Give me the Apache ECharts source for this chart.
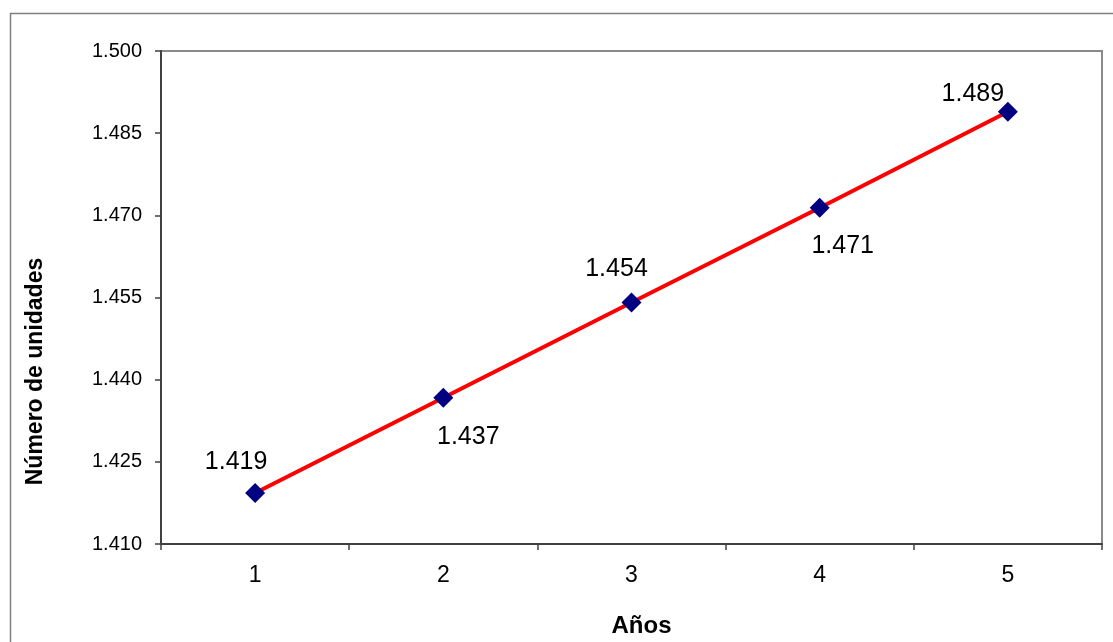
<!DOCTYPE html>
<html>
<head>
<meta charset="utf-8">
<script src="https://cdn.jsdelivr.net/npm/echarts@6/dist/echarts.min.js"></script>
<style>
html,body{margin:0;padding:0;background:#fff;}
#chart{width:1113px;height:642px;}
</style>
</head>
<body>
<div id="chart"></div>
<script>
var categories = ['1', '2', '3', '4', '5'];
var unidades = [1419.3, 1436.7, 1454.1, 1471.4, 1488.9];
var yMin = 1410, yMax = 1500, yStep = 15;
var xAxisName = 'Años';
var yAxisName = 'Número de unidades';
var labelOffsets = [[-19, -31], [25, 39], [-15, -33], [23, 38], [-35, -18]];

var FONT = '"Liberation Sans", Arial, sans-serif';
function fmt(v) { return (v / 1000).toFixed(3); }

var chart = echarts.init(document.getElementById('chart'), null, {renderer: 'canvas'});
chart.setOption({
  animation: false,
  backgroundColor: '#ffffff',
  graphic: [{
    type: 'rect', left: 8, top: 11,
    shape: {width: 1200, height: 700},
    style: {fill: 'none', stroke: '#808080', lineWidth: 1.5},
    silent: true
  }],
  grid: {
    left: 161, right: 11, top: 51, bottom: 98,
    outerBoundsMode: 'none',
    containLabel: false,
    show: true, borderColor: '#8a8a8a', borderWidth: 2, backgroundColor: '#ffffff'
  },
  xAxis: {
    type: 'category',
    data: categories,
    boundaryGap: true,
    name: xAxisName,
    nameLocation: 'middle',
    nameGap: 70,
    nameTextStyle: {fontFamily: FONT, fontSize: 24, fontWeight: 'bold', color: '#000', padding: [0, 0, 0, 20]},
    axisLine: {lineStyle: {color: '#404040', width: 2}},
    axisTick: {show: true, length: 6, inside: false, alignWithLabel: false, interval: 0, lineStyle: {color: '#404040', width: 1.5}},
    axisLabel: {fontFamily: FONT, fontSize: 23, color: '#000', margin: 20, interval: 0},
    splitLine: {show: false}
  },
  yAxis: {
    type: 'value',
    min: yMin, max: yMax, interval: yStep,
    name: yAxisName,
    nameLocation: 'middle',
    nameGap: 114,
    nameRotate: 90,
    nameTextStyle: {fontFamily: FONT, fontSize: 23, fontWeight: 'bold', color: '#000', padding: [0, 148, 0, 0]},
    axisLine: {show: true, lineStyle: {color: '#404040', width: 2}},
    axisTick: {show: true, length: 6, inside: false, lineStyle: {color: '#404040', width: 1.5}},
    axisLabel: {fontFamily: FONT, fontSize: 20, color: '#000', margin: 19, formatter: fmt},
    splitLine: {show: false}
  },
  series: [{
    type: 'line',
    data: unidades.map(function (v, i) {
      return {
        value: v,
        label: {offset: labelOffsets[i]}
      };
    }),
    symbol: 'diamond',
    symbolSize: 20,
    showAllSymbol: true,
    lineStyle: {color: '#ff0000', width: 4},
    itemStyle: {color: '#000080', borderWidth: 0},
    z: 3,
    label: {
      show: true,
      position: 'inside',
      align: 'center',
      verticalAlign: 'middle',
      fontFamily: FONT,
      fontSize: 25,
      color: '#000',
      formatter: function (p) { return fmt(p.value); }
    }
  }]
});
</script>
</body>
</html>
